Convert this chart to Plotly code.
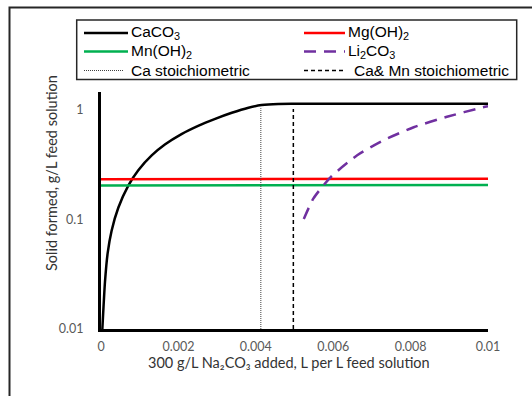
import plotly.graph_objects as go

# Solid formed vs. volume of 300 g/L Na2CO3 added (g/L feed solution)
caco3_x = [0.000035, 0.000103, 0.000171, 0.000274, 0.000447, 0.000705, 0.000964,
           0.00131, 0.00165, 0.00208, 0.00251, 0.00295, 0.00338, 0.00381,
           0.00415, 0.00458, 0.0050, 0.0100]
caco3_y = [0.010, 0.027, 0.049, 0.079, 0.128, 0.204, 0.282,
           0.385, 0.484, 0.603, 0.717, 0.831, 0.944, 1.050,
           1.110, 1.138, 1.142, 1.140]

mgoh2_x = [0.0, 0.00410, 0.00460, 0.0100]
mgoh2_y = [0.2336, 0.2336, 0.2355, 0.2355]

mnoh2_x = [0.0, 0.00410, 0.00460, 0.0100]
mnoh2_y = [0.2046, 0.2046, 0.2066, 0.2066]

li2co3_x = [0.00524, 0.00549, 0.00593, 0.00662, 0.00730, 0.00808, 0.00894, 0.00986, 0.0100]
li2co3_y = [0.101, 0.156, 0.243, 0.387, 0.530, 0.697, 0.868, 1.059, 1.085]

ca_stoich_x = [0.00413, 0.00413]
ca_stoich_y = [0.01, 1.04]
camn_stoich_x = [0.00497, 0.00497]
camn_stoich_y = [0.01, 1.02]

x_ticks = [0, 0.002, 0.004, 0.006, 0.008, 0.01]
x_ticktext = ["0", "0.002", "0.004", "0.006", "0.008", "0.01"]
y_ticks = [0.01, 0.1, 1]
y_ticktext = ["0.01", "0.1", "1"]

W, H = 532, 396
M_L, M_R, M_T, M_B = 101, 44, 92, 67
PW, PH = W - M_L - M_R, H - M_T - M_B


def px(x):
    """Pixel column -> paper x."""
    return (x - M_L) / PW


def py(y):
    """Pixel row -> paper y."""
    return (H - M_B - y) / PH


series = [
    dict(name="CaCO<sub>3</sub>", x=caco3_x, y=caco3_y,
         line=dict(color="black", width=2.5, shape="spline", smoothing=0.6)),
    dict(name="Mg(OH)<sub>2</sub>", x=mgoh2_x, y=mgoh2_y,
         line=dict(color="#FF0000", width=2.5)),
    dict(name="Mn(OH)<sub>2</sub>", x=mnoh2_x, y=mnoh2_y,
         line=dict(color="#00B050", width=2.5)),
    dict(name="Li<sub>2</sub>CO<sub>3</sub>", x=li2co3_x, y=li2co3_y,
         line=dict(color="#7030A0", width=2.5, dash="12px,8px",
                   shape="spline", smoothing=0.6)),
    dict(name="Ca stoichiometric", x=ca_stoich_x, y=ca_stoich_y,
         line=dict(color="#404040", width=1, dash="1px,1px")),
    dict(name="Ca& Mn stoichiometric", x=camn_stoich_x, y=camn_stoich_y,
         line=dict(color="black", width=1.5, dash="4px,3px")),
]

fig = go.Figure()
for s in series:
    fig.add_trace(go.Scatter(x=s["x"], y=s["y"], mode="lines", name=s["name"],
                             line=s["line"], showlegend=False))

# Two-column legend box above the plot
shapes = [
    dict(type="rect", xref="paper", yref="paper",
         x0=px(76.7), x1=px(516.7), y0=py(79.5), y1=py(20),
         line=dict(color="#262626", width=1.5), fillcolor="white", layer="above"),
]
annotations = []
row_y = [33, 51.5, 70.5]
# (line start, line end, text start) for each column, per row
col_layout = [
    [(84, 128, 129), (304, 345, 346)],
    [(84, 128, 129), (304, 345, 346)],
    [(84, 124, 129), (304, 344, 352)],
]
for i, s in enumerate(series):
    r, c = divmod(i, 2)
    x0, x1, tx = col_layout[r][c]
    ln = s["line"]
    shapes.append(dict(type="line", xref="paper", yref="paper",
                       x0=px(x0), x1=px(x1), y0=py(row_y[r]), y1=py(row_y[r]),
                       line=dict(color=ln["color"], width=ln["width"] if ln["width"] > 1.2 else 1,
                                 dash=ln.get("dash", "solid")),
                       layer="above"))
    annotations.append(dict(text=s["name"], xref="paper", yref="paper",
                            x=px(tx), y=py(row_y[r]), xanchor="left", yanchor="middle",
                            showarrow=False,
                            font=dict(family="Liberation Sans, Arial, sans-serif",
                                      size=15.5, color="black")))

# Axis titles
title_font = dict(family="Lato, sans-serif", size=14.5, color="#333333")
annotations.append(dict(text="300 g/L Na₂CO₃ added, L per L feed solution",
                        xref="paper", yref="paper", x=px(289), y=py(362),
                        xanchor="center", yanchor="middle", showarrow=False,
                        font=title_font))
annotations.append(dict(text="Solid formed, g/L feed solution",
                        xref="paper", yref="paper", x=px(51), y=py(173),
                        xanchor="center", yanchor="middle", showarrow=False,
                        textangle=-90, font=title_font))

# Outer chart frame
shapes.append(dict(type="rect", xref="paper", yref="paper",
                   x0=px(9.5), x1=px(545), y0=py(410), y1=py(7.5),
                   line=dict(color="#262626", width=2), layer="above"))

tick_font = dict(family="Lato, sans-serif", size=12.5, color="#595959")

fig.update_xaxes(range=[0, 0.01], tickvals=x_ticks, ticktext=x_ticktext,
                 showline=True, linewidth=3, linecolor="black", showgrid=False,
                 zeroline=False, ticks="", tickfont=tick_font, ticklabelstandoff=4)
fig.update_yaxes(type="log", range=[-2, 0.165], tickvals=y_ticks, ticktext=y_ticktext,
                 showline=True, linewidth=3, linecolor="black", showgrid=False,
                 zeroline=False, ticks="", tickfont=tick_font, ticklabelstandoff=12)

fig.update_layout(
    width=W, height=H,
    margin=dict(l=M_L, r=M_R, t=M_T, b=M_B, autoexpand=False),
    paper_bgcolor="white", plot_bgcolor="white",
    showlegend=False,
    shapes=shapes,
    annotations=annotations,
)

fig.write_html("out.html")
